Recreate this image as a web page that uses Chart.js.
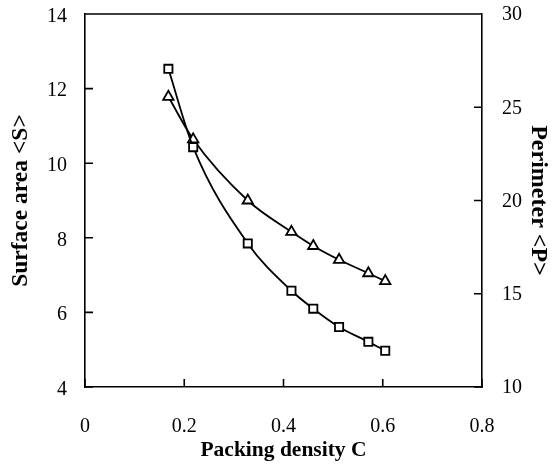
<!DOCTYPE html>
<html>
<head>
<meta charset="utf-8">
<script src="https://cdn.jsdelivr.net/npm/chart.js@4"></script>
<style>
  html, body { margin: 0; padding: 0; background: #fff; }
  #wrap { width: 557px; height: 472px; }
</style>
</head>
<body>
<div id="wrap"><canvas id="c" width="557" height="472"></canvas></div>
<script>
// packing density C
const density = [0.168, 0.218, 0.328, 0.416, 0.46, 0.512, 0.571, 0.605];
// surface area <S> (left axis, squares)
const surface = [12.53, 10.43, 7.85, 6.58, 6.10, 5.61, 5.21, 4.97];
// perimeter <P> (right axis, triangles)
const perimeter = [25.56, 23.28, 20.0, 18.32, 17.56, 16.82, 16.10, 15.68];

const FONT = '"Liberation Serif", "Times New Roman", serif';
const INK = '#000';

// tick marks point into the plot, and the box is closed on top
const innerTicks = {
  id: 'innerTicks',
  afterDraw(chart) {
    const { ctx, chartArea: a, scales } = chart;
    ctx.save();
    ctx.strokeStyle = INK;
    ctx.lineWidth = 1.6;
    ctx.beginPath();
    ctx.moveTo(a.left, a.top);
    ctx.lineTo(a.right, a.top);
    for (const t of scales.y.ticks) {
      const py = scales.y.getPixelForValue(t.value);
      ctx.moveTo(a.left, py); ctx.lineTo(a.left + 8, py);
    }
    for (const t of scales.y2.ticks) {
      const py = scales.y2.getPixelForValue(t.value);
      ctx.moveTo(a.right, py); ctx.lineTo(a.right - 8, py);
    }
    for (const t of scales.x.ticks) {
      const px = scales.x.getPixelForValue(t.value);
      ctx.moveTo(px, a.bottom); ctx.lineTo(px, a.bottom - 8);
    }
    ctx.stroke();
    ctx.restore();
  }
};

const pts = (xs, ys) => xs.map((x, i) => ({ x, y: ys[i] }));

// fixed side widths; the top label may hang above the box
const fitSide = w => s => { s.width = w; s.paddingTop = 0; s.paddingBottom = 0; };

new Chart(document.getElementById('c'), {
  type: 'line',
  data: {
    datasets: [
      {
        label: 'Surface area <S>',
        data: pts(density, surface),
        yAxisID: 'y',
        borderColor: INK,
        borderWidth: 1.8,
        cubicInterpolationMode: 'monotone',
        pointStyle: 'rect',
        pointRadius: 5.8,
        pointBorderWidth: 1.8,
        pointBackgroundColor: '#fff',
        pointBorderColor: INK,
      },
      {
        label: 'Perimeter <P>',
        data: pts(density, perimeter),
        yAxisID: 'y2',
        borderColor: INK,
        borderWidth: 1.8,
        cubicInterpolationMode: 'monotone',
        pointStyle: 'triangle',
        pointRadius: 6,
        pointBorderWidth: 1.8,
        pointBackgroundColor: '#fff',
        pointBorderColor: INK,
      }
    ]
  },
  options: {
    responsive: false,
    animation: false,
    layout: { padding: { top: 14, left: 0, right: 0, bottom: 0 } },
    plugins: { legend: { display: false }, tooltip: { enabled: false } },
    scales: {
      x: {
        type: 'linear',
        min: 0, max: 0.8,
        afterFit: s => { s.height = 85; },
        ticks: {
          stepSize: 0.2,
          color: INK, padding: 28,
          font: { family: FONT, size: 20 },
          callback: v => v === 0 ? '0' : v.toFixed(1)
        },
        grid: { display: false, drawTicks: false },
        border: { color: INK, width: 1.6 },
        title: {
          display: true, text: 'Packing density C', color: INK,
          font: { family: FONT, size: 21.5, weight: 'bold' },
          padding: { top: 0, bottom: 9 }
        }
      },
      y: {
        position: 'left',
        min: 4, max: 14,
        afterFit: fitSide(85),
        ticks: {
          stepSize: 2, color: INK, padding: 18, labelOffset: 2.5,
          font: { family: FONT, size: 20 }
        },
        grid: { display: false, drawTicks: false },
        border: { color: INK, width: 1.6 },
        title: {
          display: true, text: 'Surface area <S>', color: INK,
          font: { family: FONT, size: 23.5, weight: 'bold' },
          padding: { top: 7, bottom: 0 }
        }
      },
      y2: {
        position: 'right',
        min: 10, max: 30,
        afterFit: fitSide(75),
        ticks: {
          stepSize: 5, color: INK, padding: 20, labelOffset: 1,
          font: { family: FONT, size: 20 }
        },
        grid: { display: false, drawTicks: false },
        border: { color: INK, width: 1.6 },
        title: {
          display: true, text: 'Perimeter <P>', color: INK,
          font: { family: FONT, size: 24, weight: 'bold' },
          padding: { top: 4, bottom: 0 }
        }
      }
    }
  },
  plugins: [innerTicks]
});
</script>
</body>
</html>
